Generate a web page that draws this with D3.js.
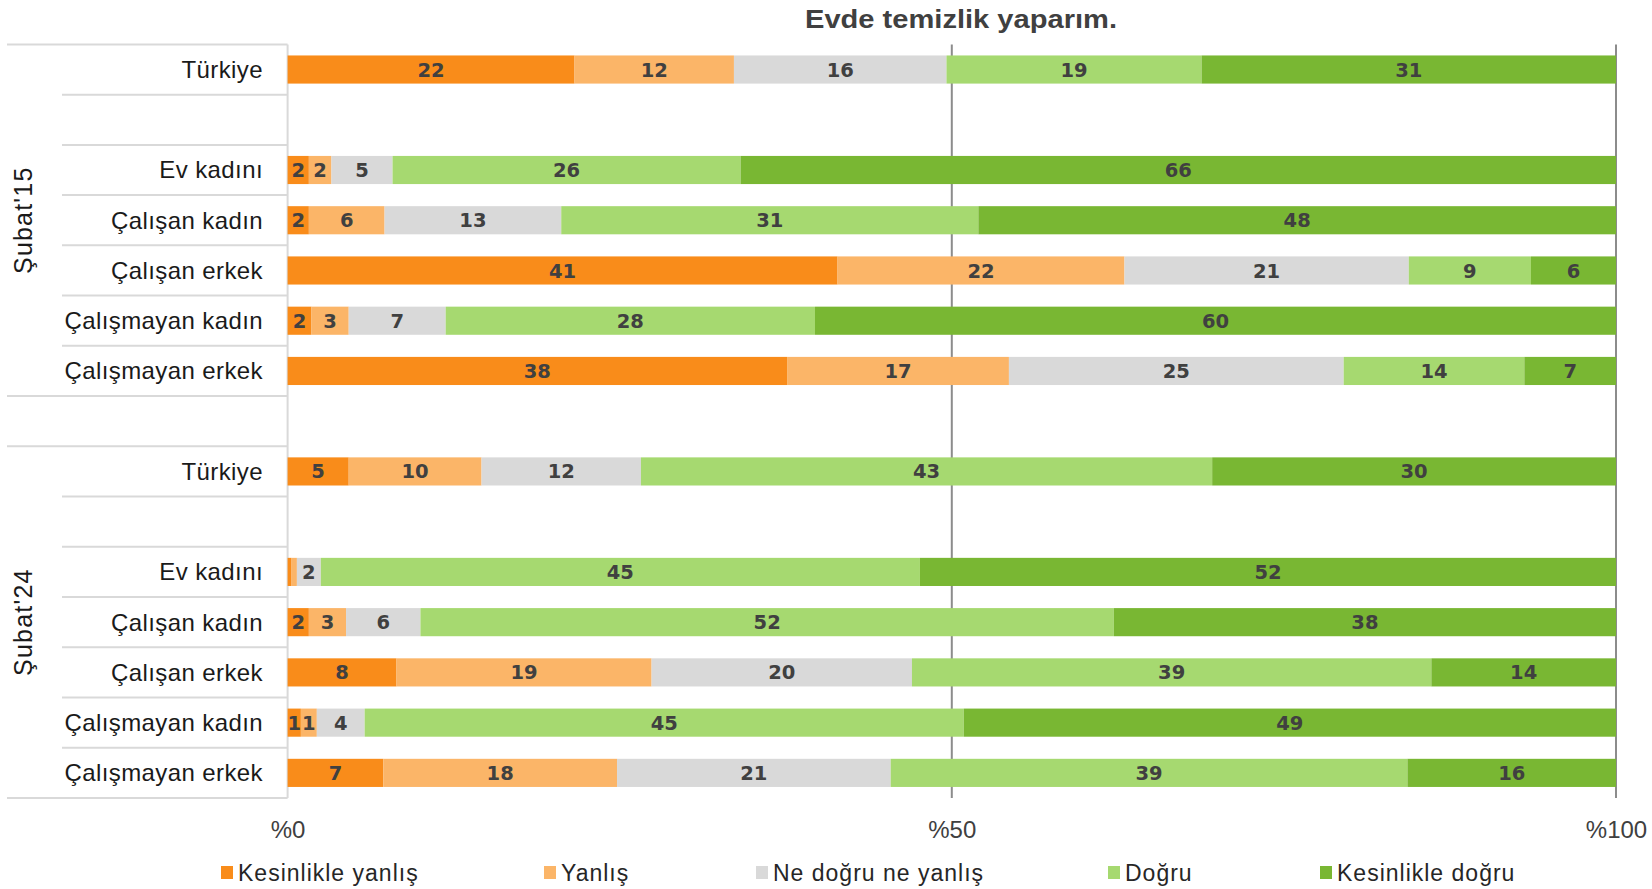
<!DOCTYPE html>
<html>
<head>
<meta charset="utf-8">
<script src="https://cdn.jsdelivr.net/npm/d3@7"></script>
<style>
  html, body { margin: 0; padding: 0; background: #fff; }
  svg { display: block; }
</style>
</head>
<body>
<svg id="chart" width="1652" height="889"></svg>
<script>
// ---------- DATA ----------
const title = "Evde temizlik yaparım.";
const seriesNames = ["Kesinlikle yanlış", "Yanlış", "Ne doğru ne yanlış", "Doğru", "Kesinlikle doğru"];
const seriesColors = ["#F98C1A", "#FBB568", "#D9D9D9", "#A6D970", "#79B733"];
const groups = ["Şubat'15", "Şubat'24"];
const categories = ["Türkiye", "", "Ev kadını", "Çalışan kadın", "Çalışan erkek", "Çalışmayan kadın", "Çalışmayan erkek"];
// values per row (order: seriesNames), rows in categories order, null = empty spacer row
const values15 = [
  [21.6, 12.0, 16.0, 19.2, 31.2],
  null,
  [1.6, 1.7, 4.6, 26.2, 65.9],
  [1.6, 5.7, 13.3, 31.4, 48.0],
  [41.4, 21.6, 21.4, 9.2, 6.4],
  [1.8, 2.8, 7.3, 27.8, 60.3],
  [37.6, 16.7, 25.2, 13.6, 6.9]
];
const values24 = [
  [4.6, 10.0, 12.0, 43.0, 30.4],
  null,
  [0.3, 0.4, 1.8, 45.1, 52.4],
  [1.6, 2.8, 5.6, 52.2, 37.8],
  [8.2, 19.2, 19.6, 39.1, 13.9],
  [1.0, 1.2, 3.6, 45.1, 49.1],
  [7.2, 17.6, 20.6, 38.9, 15.7]
];
const tickValues = [0, 50, 100];
const tickLabels = ["%0", "%50", "%100"];

// ---------- LAYOUT ----------
const svg = d3.select("#chart");
const plotLeft = 287.6, plotRight = 1616, plotTop = 44.4, plotBottom = 798;
const fontMain = "'Liberation Sans', Arial, sans-serif";

// rows: group1 (7 rows), gap row, group2 (7 rows)
const rows = [];
categories.forEach((c, i) => rows.push({key: "g0-" + i, label: c, group: 0, vals: values15[i]}));
rows.push({key: "gap", label: "", group: -1, vals: null});
categories.forEach((c, i) => rows.push({key: "g1-" + i, label: c, group: 1, vals: values24[i]}));

const x = d3.scaleLinear().domain([0, 100]).range([plotLeft, plotRight]);
const y = d3.scaleBand().domain(rows.map(r => r.key)).range([plotTop, plotBottom])
  .paddingInner(0.44).paddingOuter(0.22);
const step = y.step();
const boundary = i => plotTop + i * step;

// ---------- TITLE ----------
svg.append("text")
  .attr("x", 961).attr("y", 28)
  .attr("text-anchor", "middle")
  .attr("font-family", fontMain).attr("font-weight", "bold").attr("font-size", 25)
  .attr("fill", "#404040")
  .attr("textLength", 312).attr("lengthAdjust", "spacingAndGlyphs")
  .text(title);

// ---------- TABLE LINES (left) ----------
const lineG = svg.append("g");
for (let i = 0; i <= rows.length; i++) {
  const full = (i === 0 || i === 7 || i === 8 || i === 15);
  lineG.append("line")
    .attr("x1", full ? 7 : 62).attr("x2", plotLeft)
    .attr("y1", boundary(i)).attr("y2", boundary(i))
    .attr("stroke", "#D9D9D9").attr("stroke-width", 2);
}
// vertical line at 0
lineG.append("line")
  .attr("x1", x(0)).attr("x2", x(0))
  .attr("y1", plotTop).attr("y2", plotBottom)
  .attr("stroke", "#D9D9D9").attr("stroke-width", 2);

// gridlines at 50 and 100
svg.append("g").selectAll("line").data([50, 100]).join("line")
  .attr("x1", d => x(d)).attr("x2", d => x(d))
  .attr("y1", plotTop).attr("y2", plotBottom)
  .attr("stroke", "#8C8C8C").attr("stroke-width", 2);

// ---------- BARS ----------
const stack = d3.stack().keys(d3.range(seriesNames.length))
  .value((d, k) => d.vals ? d.vals[k] : 0);
const stacked = stack(rows);

const barG = svg.append("g");
stacked.forEach((layer, si) => {
  barG.append("g").selectAll("rect")
    .data(layer.filter(d => d.data.vals))
    .join("rect")
    .attr("x", d => x(d[0]))
    .attr("width", d => Math.max(0, x(d[1]) - x(d[0])))
    .attr("y", d => y(d.data.key))
    .attr("height", y.bandwidth())
    .attr("fill", seriesColors[si]);
});

// data labels
const labG = svg.append("g");
stacked.forEach((layer, si) => {
  labG.append("g").selectAll("text")
    .data(layer.filter(d => d.data.vals && Math.round(d.data.vals[si]) > 0))
    .join("text")
    .attr("x", d => (x(d[0]) + x(d[1])) / 2)
    .attr("y", d => y(d.data.key) + y.bandwidth() / 2)
    .attr("dy", "0.36em")
    .attr("text-anchor", "middle")
    .attr("font-family", "'DejaVu Sans', sans-serif").attr("font-weight", "bold")
    .attr("font-size", 19.5)
    .attr("fill", "#404040")
    .text(d => Math.round(d.data.vals[si]));
});

// ---------- CATEGORY LABELS ----------
svg.append("g").selectAll("text")
  .data(rows.filter(r => r.label))
  .join("text")
  .attr("x", 263)
  .attr("y", r => y(r.key) + y.bandwidth() / 2)
  .attr("dy", "0.35em")
  .attr("text-anchor", "end")
  .attr("font-family", fontMain).attr("font-size", 24)
  .attr("letter-spacing", 0.4)
  .attr("fill", "#1a1a1a")
  .text(r => r.label);

// group labels
groups.forEach((g, gi) => {
  const first = gi === 0 ? 0 : 8;
  const cy = (boundary(first) + boundary(first + 7)) / 2;
  svg.append("text")
    .attr("transform", `translate(32,${cy}) rotate(-90)`)
    .attr("text-anchor", "middle")
    .attr("font-family", fontMain).attr("font-size", 25)
    .attr("letter-spacing", 1.2)
    .attr("fill", "#1a1a1a")
    .text(g);
});

// ---------- X AXIS ----------
const axis = d3.axisBottom(x).tickValues(tickValues)
  .tickFormat((d, i) => tickLabels[i]).tickSize(0).tickPadding(0);
const axG = svg.append("g").attr("transform", `translate(0,821)`).call(axis);
axG.select(".domain").remove();
axG.selectAll("text")
  .attr("font-family", fontMain).attr("font-size", 24)
  .attr("fill", "#404040").attr("dy", "0.71em");

// ---------- LEGEND ----------
const legendX = [221, 544, 756, 1108, 1320];
const lg = svg.append("g").selectAll("g").data(seriesNames).join("g")
  .attr("transform", (d, i) => `translate(${legendX[i]},873)`);
lg.append("rect").attr("x", 0).attr("y", -7).attr("width", 12).attr("height", 13)
  .attr("fill", (d, i) => seriesColors[i]);
lg.append("text").attr("x", 17).attr("y", 0).attr("dy", "0.35em")
  .attr("font-family", fontMain).attr("font-size", 23)
  .attr("letter-spacing", 1)
  .attr("fill", "#262626")
  .text(d => d);
</script>
</body>
</html>
